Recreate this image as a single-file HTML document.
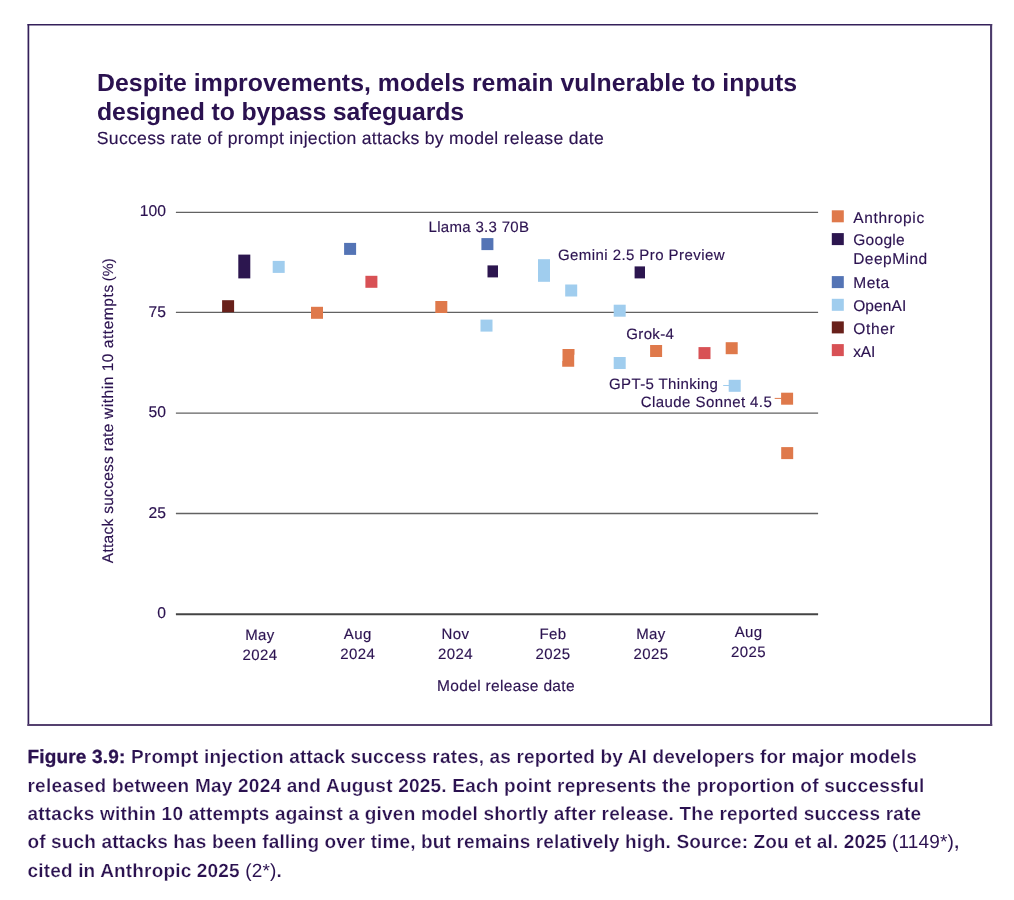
<!DOCTYPE html>
<html>
<head>
<meta charset="utf-8">
<style>
html,body{margin:0;padding:0;background:#fff;}
body{width:1014px;height:900px;overflow:hidden;position:relative;}
svg{position:absolute;left:0;top:0;display:block;will-change:transform;}
text{font-family:"Liberation Sans",Arial,sans-serif;fill:#2B1250;text-rendering:geometricPrecision;}
.t{font-weight:700;font-size:24.8px;}
.sub{font-size:17.6px;}
.tk{font-size:15.7px;}
.xt{font-size:15px;letter-spacing:0.4px;}
.ax{font-size:15.5px;}
.lab{font-size:15px;}
.lg{font-size:15.5px;}
.cap{font-size:19px;font-weight:700;stroke:#fff;stroke-width:0.25px;}
.capb{stroke:#2B1250;stroke-width:0.3px;}
.capr{font-weight:400;stroke-width:0;}
.tk,.xt,.ax,.lab,.lg,.sub{stroke:#2B1250;stroke-width:0.15px;}
</style>
</head>
<body>
<svg width="1014" height="900" viewBox="0 0 1014 900">
  <!-- frame -->
  <line x1="27.5" y1="24.8" x2="992.2" y2="24.8" stroke="#34205A" stroke-width="1.6"/>
  <line x1="28.4" y1="24" x2="28.4" y2="726" stroke="#34205A" stroke-width="1.7"/>
  <line x1="991.1" y1="24" x2="991.1" y2="726" stroke="#4B3A6B" stroke-width="2.1"/>
  <line x1="27.5" y1="725" x2="992.2" y2="725" stroke="#55416F" stroke-width="2"/>

  <!-- title -->
  <text class="t" x="97" y="90.8" textLength="700" lengthAdjust="spacing">Despite improvements, models remain vulnerable to inputs</text>
  <text class="t" x="97" y="119.5" textLength="367" lengthAdjust="spacing">designed to bypass safeguards</text>
  <text class="sub" x="96.8" y="143.5" textLength="507" lengthAdjust="spacing">Success rate of prompt injection attacks by model release date</text>

  <!-- gridlines -->
  <g stroke="#626262" stroke-width="1.3">
    <line x1="175.9" y1="212.3" x2="818.1" y2="212.3"/>
    <line x1="175.9" y1="312.4" x2="818.1" y2="312.4"/>
    <line x1="175.9" y1="413.2" x2="818.1" y2="413.2"/>
    <line x1="175.9" y1="513.5" x2="818.1" y2="513.5"/>
  </g>
  <line x1="175.9" y1="614.3" x2="818.1" y2="614.3" stroke="#444" stroke-width="2"/>

  <!-- y tick labels -->
  <g class="tk" text-anchor="end">
    <text class="tk" x="166" y="216.1">100</text>
    <text class="tk" x="166" y="317.2">75</text>
    <text class="tk" x="166" y="416.9">50</text>
    <text class="tk" x="166" y="517.8">25</text>
    <text class="tk" x="166" y="617.8">0</text>
  </g>

  <!-- x tick labels -->
  <g text-anchor="middle">
    <text class="xt" x="260" y="639.8">May</text><text class="xt" x="260" y="659.8">2024</text>
    <text class="xt" x="357.7" y="638.8">Aug</text><text class="xt" x="357.7" y="658.8">2024</text>
    <text class="xt" x="455.4" y="638.8">Nov</text><text class="xt" x="455.4" y="658.8">2024</text>
    <text class="xt" x="553" y="638.8">Feb</text><text class="xt" x="553" y="658.8">2025</text>
    <text class="xt" x="651" y="638.8">May</text><text class="xt" x="651" y="658.8">2025</text>
    <text class="xt" x="748.6" y="636.8">Aug</text><text class="xt" x="748.6" y="656.8">2025</text>
  </g>

  <!-- axis titles -->
  <text class="ax" x="505.8" y="690.9" text-anchor="middle" textLength="137.5" lengthAdjust="spacing">Model release date</text>
  <text class="ax" transform="translate(113.4,563.2) rotate(-90)" x="0" y="0" textLength="139.5" lengthAdjust="spacing">Attack success rate</text>
  <text class="ax" transform="translate(113.4,419) rotate(-90)" x="0" y="0" textLength="65.5" lengthAdjust="spacing">within 10</text>
  <text class="ax" transform="translate(113.4,348.3) rotate(-90)" x="0" y="0" textLength="63.5" lengthAdjust="spacing">attempts</text>
  <text class="ax" style="font-size:14.6px" transform="translate(113.4,281.2) rotate(-90)" x="0" y="0">(%)</text>

  <!-- leader lines -->
  <line x1="723.2" y1="385.5" x2="729" y2="385.5" stroke="#A0CDEE" stroke-width="1"/>
  <line x1="774.7" y1="398.4" x2="781.5" y2="398.4" stroke="#DF794B" stroke-width="1"/>

  <!-- markers -->
  <g>
    <rect x="222.1" y="300.2" width="12" height="12" fill="#68201A"/>
    <rect x="238.3" y="254.6" width="12" height="23.8" fill="#2C164F"/>
    <rect x="272.7" y="260.9" width="12" height="12" fill="#A0CDEE"/>
    <rect x="311" y="306.8" width="12" height="12" fill="#DF794B"/>
    <rect x="344.1" y="242.9" width="12" height="12" fill="#5474B5"/>
    <rect x="365.4" y="275.8" width="12" height="12" fill="#D85155"/>
    <rect x="435.3" y="301" width="12" height="12" fill="#DF794B"/>
    <rect x="481.4" y="238.1" width="12" height="12" fill="#5474B5"/>
    <rect x="487.5" y="265.4" width="10.5" height="12" fill="#2C164F"/>
    <rect x="480.5" y="319.6" width="12" height="12" fill="#A0CDEE"/>
    <rect x="538" y="259.2" width="12" height="22.6" fill="#A0CDEE"/>
    <rect x="565.2" y="284.5" width="12" height="12" fill="#A0CDEE"/>
    <path d="M562.5 349H574.5V354.8H574.2V366.8H562.2V361H562.5Z" fill="#DF794B"/>
    <rect x="613.7" y="304.7" width="12" height="12" fill="#A0CDEE"/>
    <rect x="613.7" y="357" width="12" height="12" fill="#A0CDEE"/>
    <rect x="634.6" y="266.4" width="10.4" height="12" fill="#2C164F"/>
    <rect x="650.1" y="345" width="12" height="12" fill="#DF794B"/>
    <rect x="698.5" y="347.1" width="12" height="12" fill="#D85155"/>
    <rect x="725.7" y="342.2" width="12" height="12" fill="#DF794B"/>
    <rect x="728.7" y="379.8" width="12" height="12" fill="#A0CDEE"/>
    <rect x="781.1" y="392.7" width="12" height="12" fill="#DF794B"/>
    <rect x="781.2" y="447.1" width="12" height="12" fill="#DF794B"/>
  </g>

  <!-- annotations -->
  <text class="lab" x="428.5" y="231.7" textLength="100.5" lengthAdjust="spacing">Llama 3.3 70B</text>
  <text class="lab" x="558" y="259.5" textLength="166.5" lengthAdjust="spacing">Gemini 2.5 Pro Preview</text>
  <text class="lab" x="626.3" y="339" textLength="47.5" lengthAdjust="spacing">Grok-4</text>
  <text class="lab" x="609" y="389" textLength="108.8" lengthAdjust="spacing">GPT-5 Thinking</text>
  <text class="lab" x="640.8" y="406.8" textLength="131" lengthAdjust="spacing">Claude Sonnet 4.5</text>

  <!-- legend -->
  <rect x="831.8" y="210.3" width="12" height="12" fill="#DF794B"/>
  <rect x="831.8" y="233.1" width="12" height="12" fill="#2C164F"/>
  <rect x="831.8" y="276.1" width="12" height="12" fill="#5474B5"/>
  <rect x="831.8" y="298.8" width="12" height="12" fill="#A0CDEE"/>
  <rect x="831.8" y="321.4" width="12" height="12" fill="#68201A"/>
  <rect x="831.8" y="344.1" width="12" height="12" fill="#D85155"/>
  <text class="lg" x="853.2" y="223" textLength="71" lengthAdjust="spacing">Anthropic</text>
  <text class="lg" x="853.2" y="244.7" textLength="51.5" lengthAdjust="spacing">Google</text>
  <text class="lg" x="853.2" y="263.6" textLength="74" lengthAdjust="spacing">DeepMind</text>
  <text class="lg" x="853.2" y="287.9" textLength="36" lengthAdjust="spacing">Meta</text>
  <text class="lg" x="853.2" y="310.6" textLength="53" lengthAdjust="spacing">OpenAI</text>
  <text class="lg" x="853.2" y="333.6" textLength="41.5" lengthAdjust="spacing">Other</text>
  <text class="lg" x="853.2" y="357" textLength="22" lengthAdjust="spacing">xAI</text>

  <!-- caption -->
  <text class="cap" x="27.5" y="763.4" textLength="889.4" lengthAdjust="spacing"><tspan class="capb">Figure 3.9:</tspan> Prompt injection attack success rates, as reported by AI developers for major models</text>
  <text class="cap" x="27.5" y="791.8" textLength="896.9" lengthAdjust="spacing">released between May 2024 and August 2025. Each point represents the proportion of successful</text>
  <text class="cap" x="27.5" y="820.1" textLength="893.7" lengthAdjust="spacing">attacks within 10 attempts against a given model shortly after release. The reported success rate</text>
  <text class="cap" x="27.5" y="848.2" textLength="931.7" lengthAdjust="spacing">of such attacks has been falling over time, but remains relatively high. Source: Zou et al. 2025 <tspan class="capr">(1149*)</tspan>,</text>
  <text class="cap" x="27.5" y="876.6" textLength="254.4" lengthAdjust="spacing">cited in Anthropic 2025 <tspan class="capr">(2*)</tspan>.</text>
</svg>
</body>
</html>
